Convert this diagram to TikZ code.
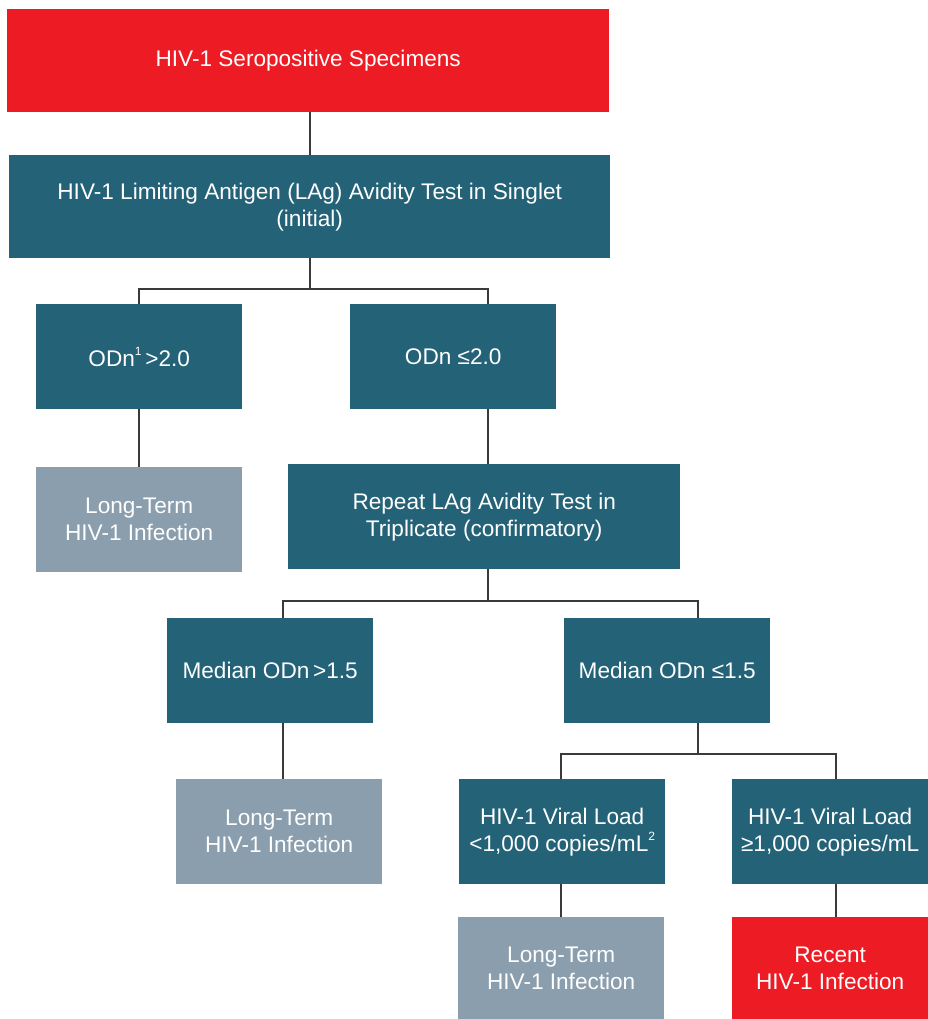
\documentclass[tikz,border=0pt]{standalone}
\usepackage{fontspec}
\setmainfont{Liberation Sans}
\definecolor{hivred}{HTML}{ED1C24}
\definecolor{hivteal}{HTML}{246277}
\definecolor{hivgrey}{HTML}{8A9EAD}
\definecolor{hivline}{HTML}{3A3A3A}
\newcommand{\smallsup}[1]{\raisebox{0.48em}{\fontsize{12}{12}\selectfont #1}}
\tikzset{
  box/.style={rectangle, inner sep=0pt, anchor=north west, text=white, align=center,
    font=\fontsize{22.6}{27}\selectfont},
  redbox/.style={box, fill=hivred},
  tealbox/.style={box, fill=hivteal},
  greybox/.style={box, fill=hivgrey},
  conn/.style={draw=hivline, line width=1.8pt}
}
\begin{document}
\begin{tikzpicture}[x=1pt,y=1pt]
\useasboundingbox (0,0) rectangle (928,-1019);
\node[redbox, minimum width=602, minimum height=103] (top) at (7,-9) {HIV-1 Seropositive Specimens};
\node[tealbox, minimum width=601, minimum height=103] (lag) at (9,-155) {HIV-1 Limiting Antigen (LAg) Avidity Test in Singlet\\(initial)};
\node[tealbox, minimum width=206, minimum height=105] (o1) at (36,-304) {ODn\smallsup{1}\,>2.0};
\node[tealbox, minimum width=206, minimum height=105] (o2) at (350,-304) {ODn ≤2.0};
\node[greybox, minimum width=206, minimum height=105] (lt1) at (36,-467) {Long-Term\\HIV-1 Infection};
\node[tealbox, minimum width=392, minimum height=105] (rep) at (288,-464) {Repeat LAg Avidity Test in\\Triplicate (confirmatory)};
\node[tealbox, minimum width=206, minimum height=105] (m1) at (167,-618) {Median ODn\,>1.5};
\node[tealbox, minimum width=206, minimum height=105] (m2) at (564,-618) {Median ODn ≤1.5};
\node[greybox, minimum width=206, minimum height=105] (lt2) at (176,-779) {Long-Term\\HIV-1 Infection};
\node[tealbox, minimum width=206, minimum height=105] (v1) at (459,-779) {HIV-1 Viral Load\\<1,000 copies/mL\smallsup{2}};
\node[tealbox, minimum width=196, minimum height=105] (v2) at (732,-779) {HIV-1 Viral Load\\≥1,000 copies/mL};
\node[greybox, minimum width=206, minimum height=102] (lt3) at (458,-917) {Long-Term\\HIV-1 Infection};
\node[redbox, minimum width=196, minimum height=102] (rec) at (732,-917) {Recent\\HIV-1 Infection};
% junction coordinates
\coordinate (b1) at (488,-289);
\coordinate (c2a) at (283,-601);
\coordinate (c2b) at (698,-601);
\coordinate (c3a) at (561,-754);
\coordinate (c3b) at (836,-754);
% connectors
\draw[conn] (lag.north |- top.south) -- (lag.north);
\draw[conn] (lag.south) -- (lag.south |- b1);
\draw[conn] (o1.north) |- (b1) -- (b1 |- o2.north);
\draw[conn] (o1.south) -- (lt1.north);
\draw[conn] (b1 |- o2.south) -- (b1 |- rep.north);
\draw[conn] (b1 |- rep.south) -- (b1 |- c2a);
\draw[conn] (c2a |- m1.north) -- (c2a) -- (c2b) -- (c2b |- m2.north);
\draw[conn] (c2a |- m1.south) -- (c2a |- lt2.north);
\draw[conn] (c2b |- m2.south) -- (c2b |- c3a);
\draw[conn] (c3a |- v1.north) -- (c3a) -- (c3b) -- (c3b |- v2.north);
\draw[conn] (c3a |- v1.south) -- (c3a |- lt3.north);
\draw[conn] (c3b |- v2.south) -- (c3b |- rec.north);
\end{tikzpicture}
\end{document}
